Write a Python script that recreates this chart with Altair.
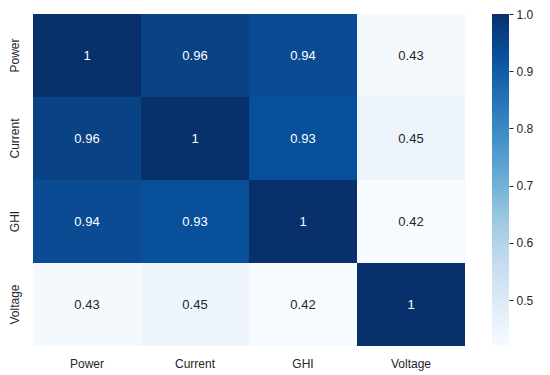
import altair as alt
import pandas as pd

labels = ["Power", "Current", "GHI", "Voltage"]
corr = [
    [1.00, 0.96, 0.94, 0.43],
    [0.96, 1.00, 0.93, 0.45],
    [0.94, 0.93, 1.00, 0.42],
    [0.43, 0.45, 0.42, 1.00],
]
annot = [
    ["1", "0.96", "0.94", "0.43"],
    ["0.96", "1", "0.93", "0.45"],
    ["0.94", "0.93", "1", "0.42"],
    ["0.43", "0.45", "0.42", "1"],
]
blues = ["#f7fbff", "#deebf7", "#c6dbef", "#9ecae1", "#6baed6",
         "#4292c6", "#2171b5", "#08519c", "#08306b"]
vmin, vmax = 0.42, 1.0
bar_ticks = [0.5, 0.6, 0.7, 0.8, 0.9, 1.0]

rows = []
for i, r in enumerate(labels):
    for j, c in enumerate(labels):
        rows.append({"row": r, "col": c, "value": corr[i][j], "label": annot[i][j]})
df = pd.DataFrame(rows)

n = len(blues)
dom = [vmin + (vmax - vmin) * k / (n - 1) for k in range(n)]

font = "Liberation Sans"
ink = "#262626"
base = alt.Chart(df).encode(
    x=alt.X("col:N", sort=labels, title=None,
            axis=alt.Axis(labelAngle=0, ticks=False, domain=False, labelPadding=12,
                          labelFontSize=12, labelFont=font, labelColor=ink)),
    y=alt.Y("row:N", sort=labels, title=None,
            axis=alt.Axis(labelAngle=270, ticks=False, domain=False, labelPadding=12,
                          labelFontSize=12, labelFont=font, labelColor=ink,
                          labelAlign="center", labelBaseline="bottom")),
)

heat = base.mark_rect(strokeWidth=0).encode(
    color=alt.Color("value:Q", scale=alt.Scale(domain=dom, range=blues), legend=None)
)

text = base.mark_text(fontSize=13, font=font).encode(
    text="label:N",
    color=alt.condition(alt.datum.value > 0.7, alt.value("white"), alt.value(ink)),
)

heatmap = (heat + text).properties(width=432, height=332)

# colour bar
bar_df = pd.DataFrame({"lo": [vmin], "hi": [vmax]})
stops = [alt.GradientStop(offset=k / (n - 1), color=c) for k, c in enumerate(blues)]
colorbar = alt.Chart(bar_df).mark_rect(
    fill=alt.LinearGradient(gradient="linear", stops=stops, x1=0, y1=1, x2=0, y2=0),
    strokeWidth=0,
).encode(
    x=alt.value(0), x2=alt.value(17),
    y=alt.Y("lo:Q", scale=alt.Scale(domain=[vmin, vmax], nice=False, zero=False), title=None,
            axis=alt.Axis(orient="right", values=bar_ticks, format=".1f", domain=False,
                          grid=False, tickSize=4, tickColor=ink, tickWidth=1,
                          labelPadding=3, labelFontSize=12, labelFont=font, labelColor=ink)),
    y2="hi:Q",
).properties(width=17, height=332)

chart = alt.hconcat(heatmap, colorbar, spacing=27, bounds="flush").properties(
    padding={"left": 0, "top": 0, "right": 5, "bottom": 5},
).configure_view(stroke=None).configure_scale(bandPaddingInner=0, bandPaddingOuter=0)

chart.save("out.html", embed_options={"renderer": "svg", "actions": False})
